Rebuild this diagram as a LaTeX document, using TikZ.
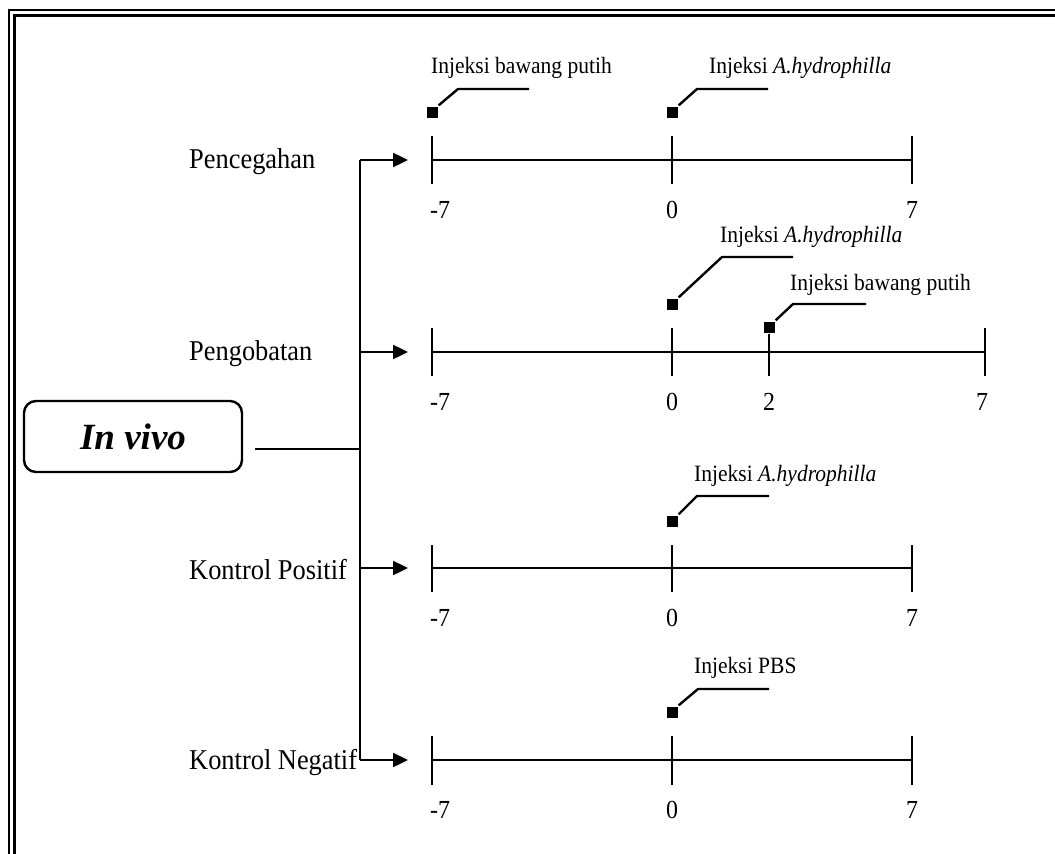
\documentclass[tikz,border=0pt]{standalone}
\usepackage{fontspec}
\setmainfont{Liberation Serif}[FakeStretch=0.92]
\newfontfamily\vivofont{Liberation Serif}
\usepackage{tikz}
\usetikzlibrary{arrows.meta,positioning}

\tikzset{
  invivo/.style={draw, rounded corners=12pt, minimum width=218pt, minimum height=71pt,
    font=\vivofont\fontsize{37}{40}\selectfont\bfseries\itshape},
  grp/.style={anchor=west, inner sep=0pt, font=\fontsize{28.7}{32}\selectfont},
  sqbox/.style={fill=black, minimum size=11pt, inner sep=0pt},
  injtext/.style={anchor=west, inner sep=0pt},
  daynum/.style={inner sep=0pt, font=\fontsize{26}{30}\selectfont},
  arr/.style={-{Triangle[length=15pt,width=14pt]}},
}

\begin{document}
\begin{tikzpicture}[x=1pt, y=-1pt, font=\fontsize{23.4}{28}\selectfont, line width=2.4pt]
    \useasboundingbox (0,0) rectangle (1055,854);
    % bingkai ganda
    \draw[line width=2.6pt] (9,854) -- (9,10) -- (1055,10);
    \draw[line width=2.6pt] (14.5,854) -- (14.5,15.5) -- (1055,15.5);

    % kotak utama
    \node[invivo] (vivo) at (133,436.5) {In vivo};
    \coordinate (vivoout) at (255,449);
    \coordinate (trunk) at (360,449);
    \coordinate (tA) at (360,160);
    \coordinate (tB) at (360,352);
    \coordinate (tC) at (360,568);
    \coordinate (tD) at (360,760);
    \draw (vivoout) -- (trunk);
    \draw (tA) -- (tD);

    % kelompok
    \node[grp] (pencegahan) at (188,162) {Pencegahan};
    \node[grp] (pengobatan) at (188,354) {Pengobatan};
    \node[grp] (kpositif) at (188,570) {Kontrol Positif};
    \node[grp] (knegatif) at (188,762) {Kontrol Negatif};
    \coordinate (aA) at (408,160);
    \coordinate (aB) at (408,352);
    \coordinate (aC) at (408,568);
    \coordinate (aD) at (408,760);
    \draw[arr] (tA) -- (aA);
    \draw[arr] (tB) -- (aB);
    \draw[arr] (tC) -- (aC);
    \draw[arr] (tD) -- (aD);

    % Pencegahan
    \draw (432,160) -- (912,160);
    \draw (432,136) -- (432,184);
    \draw (672,136) -- (672,184);
    \draw (912,136) -- (912,184);
    \node[daynum] (nA1) at (440,210) {-7};
    \node[daynum] (nA2) at (672,210) {0};
    \node[daynum] (nA3) at (912,210) {7};
    \node[sqbox] (sA1) at (432,112) {};
    \node[sqbox] (sA2) at (672,112) {};
    \draw (sA1.north east) -- (458,89) -- (529,89);
    \draw (sA2.north east) -- (697,89) -- (768,89);
    \node[injtext] (lA1) at (430,68) {Injeksi bawang putih};
    \node[injtext] (lA2) at (708,68) {Injeksi \textit{A.hydrophilla}};

    % Pengobatan
    \draw (432,352) -- (985,352);
    \draw (432,328) -- (432,376);
    \draw (672,328) -- (672,376);
    \draw (985,328) -- (985,376);
    \node[daynum] (nB1) at (440,402) {-7};
    \node[daynum] (nB2) at (672,402) {0};
    \node[daynum] (nB3) at (769,402) {2};
    \node[daynum] (nB4) at (982,402) {7};
    \node[sqbox] (sB1) at (672,304) {};
    \node[sqbox] (sB2) at (769,327) {};
    \draw (sB2) -- (769,376);
    \draw (sB1.north east) -- (722,257) -- (793,257);
    \draw (sB2.north east) -- (793,304) -- (866,304);
    \node[injtext] (lB1) at (719,237) {Injeksi \textit{A.hydrophilla}};
    \node[injtext] (lB2) at (789,285) {Injeksi bawang putih};

    % Kontrol Positif
    \draw (432,568) -- (912,568);
    \draw (432,545) -- (432,592);
    \draw (672,545) -- (672,592);
    \draw (912,545) -- (912,592);
    \node[daynum] (nC1) at (440,618) {-7};
    \node[daynum] (nC2) at (672,618) {0};
    \node[daynum] (nC3) at (912,618) {7};
    \node[sqbox] (sC1) at (672,521) {};
    \draw (sC1.north east) -- (697,496) -- (769,496);
    \node[injtext] (lC1) at (693,476) {Injeksi \textit{A.hydrophilla}};

    % Kontrol Negatif
    \draw (432,760) -- (912,760);
    \draw (432,736) -- (432,785);
    \draw (672,736) -- (672,785);
    \draw (912,736) -- (912,785);
    \node[daynum] (nD1) at (440,810) {-7};
    \node[daynum] (nD2) at (672,810) {0};
    \node[daynum] (nD3) at (912,810) {7};
    \node[sqbox] (sD1) at (672,712) {};
    \draw (sD1.north east) -- (698,689) -- (769,689);
    \node[injtext] (lD1) at (693,668) {Injeksi PBS};
\end{tikzpicture}
\end{document}
